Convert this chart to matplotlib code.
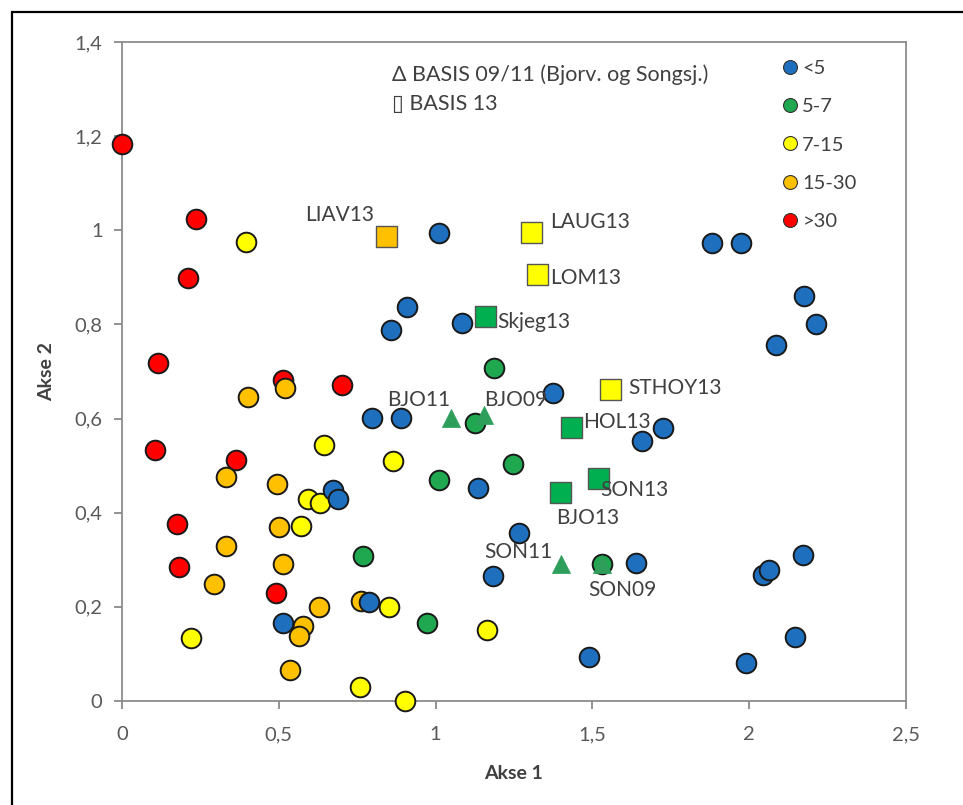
import matplotlib.pyplot as plt
from matplotlib.lines import Line2D
from matplotlib.patches import Rectangle

plt.rcParams['font.family'] = ['Lato', 'DejaVu Sans']

# circles per class (Akse 1, Akse 2)
lt5_x = [1.011, 0.91, 0.857, 1.085, 1.373, 0.798, 0.89, 0.674, 0.69, 1.134, 1.724, 1.657,
         2.084, 1.882, 1.973, 2.176, 2.212, 1.266, 1.184, 0.789, 0.514, 1.638, 2.045, 2.064,
         2.173, 2.146, 1.99, 1.49]
lt5_y = [0.994, 0.836, 0.788, 0.804, 0.655, 0.602, 0.602, 0.449, 0.43, 0.453, 0.58, 0.553,
         0.757, 0.973, 0.972, 0.86, 0.80, 0.357, 0.266, 0.21, 0.166, 0.294, 0.267, 0.278,
         0.31, 0.135, 0.08, 0.093]

g57_x = [1.187, 1.126, 1.248, 1.010, 0.767, 0.971, 1.532]
g57_y = [0.708, 0.591, 0.503, 0.469, 0.308, 0.166, 0.292]

g715_x = [0.394, 0.645, 0.865, 0.592, 0.631, 0.572, 0.851, 1.163, 0.22, 0.759, 0.902]
g715_y = [0.975, 0.543, 0.51, 0.429, 0.42, 0.372, 0.199, 0.151, 0.133, 0.03, 0.0]

g1530_x = [0.403, 0.52, 0.331, 0.495, 0.502, 0.332, 0.513, 0.293, 0.629, 0.761, 0.576,
           0.564, 0.537]
g1530_y = [0.646, 0.664, 0.475, 0.461, 0.37, 0.329, 0.292, 0.248, 0.199, 0.212, 0.16,
           0.139, 0.066]

gt30_x = [0.0, 0.236, 0.211, 0.116, 0.514, 0.70, 0.105, 0.362, 0.174, 0.181, 0.491]
gt30_y = [1.183, 1.023, 0.899, 0.718, 0.681, 0.672, 0.534, 0.513, 0.377, 0.285, 0.23]

# BASIS 13 (squares)
sq_names = ['LIAV13', 'LAUG13', 'LOM13', 'Skjeg13', 'STHOY13', 'HOL13', 'SON13', 'BJO13']
sq_x = [0.842, 1.307, 1.326, 1.16, 1.559, 1.434, 1.519, 1.397]
sq_y = [0.987, 0.996, 0.907, 0.817, 0.662, 0.582, 0.473, 0.442]
sq_col = ['#FFC000', '#FFFF00', '#FFFF00', '#00B050', '#FFFF00', '#00B050', '#00B050', '#00B050']

# BASIS 09/11 (triangles)
tri_names = ['BJO11', 'BJO09', 'SON11', 'SON09']
tri_x = [1.048, 1.154, 1.40, 1.532]
tri_y = [0.602, 0.607, 0.292, 0.292]

# label positions in data units
lab_x = [0.805, 1.365, 1.365, 1.196, 1.613, 1.47, 1.524, 1.384, 0.945, 1.255, 1.265, 1.487]
lab_y = [1.032, 1.017, 0.898, 0.805, 0.665, 0.592, 0.448, 0.389, 0.64, 0.64, 0.316, 0.236]
lab_ha = ['right', 'left', 'left', 'left', 'left', 'left', 'left', 'left',
          'center', 'center', 'center', 'left']

fig = plt.figure(figsize=(9.63, 8.05), dpi=100)
ax = fig.add_axes([0.1267, 0.1292, 0.8141, 0.8186])

S = 200
ec = '#1a1a1a'
ax.scatter(gt30_x, gt30_y, s=S, c='#FF0000', edgecolors=ec, linewidths=1.4, zorder=3, clip_on=False)
ax.scatter(g1530_x, g1530_y, s=S, c='#FFC000', edgecolors=ec, linewidths=1.4, zorder=3, clip_on=False)
ax.scatter(g715_x, g715_y, s=S, c='#FFFF00', edgecolors=ec, linewidths=1.4, zorder=3, clip_on=False)
ax.scatter(lt5_x, lt5_y, s=S, c='#1F6FBF', edgecolors=ec, linewidths=1.4, zorder=3, clip_on=False)
ax.scatter(g57_x, g57_y, s=S, c='#1FA84F', edgecolors=ec, linewidths=1.4, zorder=3, clip_on=False)
ax.scatter(sq_x, sq_y, s=230, c=sq_col, marker='s', edgecolors='#555555', linewidths=1.0, zorder=4)
ax.scatter(tri_x, tri_y, s=170, c='#2E9E5B', marker='^', edgecolors='#2E9E5B', linewidths=0.5, zorder=4)

names = sq_names + tri_names
for i, n in enumerate(names):
    ax.text(lab_x[i], lab_y[i], n, ha=lab_ha[i], va='center', fontsize=15, color='#404040', zorder=5)

ax.text(0.862, 1.33, '\u0394 BASIS 09/11 (Bjorv. og Songsj.)', fontsize=15.5, color='#404040', va='center')
ax.text(0.862, 1.268, '\u25af BASIS 13', fontsize=15.5, color='#404040', va='center')

ax.set_xlim(0, 2.5)
ax.set_ylim(0, 1.4)
ax.set_xticks([0, 0.5, 1, 1.5, 2, 2.5])
ax.set_xticklabels(['0', '0,5', '1', '1,5', '2', '2,5'])
ax.set_yticks([0, 0.2, 0.4, 0.6, 0.8, 1.0, 1.2, 1.4])
ax.set_yticklabels(['0', '0,2', '0,4', '0,6', '0,8', '1', '1,2', '1,4'])
ax.tick_params(labelsize=14.5, colors='#808080', labelcolor='#595959', length=6, width=1.2)
ax.tick_params(axis='x', pad=12)
ax.tick_params(axis='y', pad=8)
for sp in ax.spines.values():
    sp.set_color('#8c8c8c')
    sp.set_linewidth(1.3)
ax.set_xlabel('Akse 1', fontsize=14, fontweight='bold', color='#404040', labelpad=16)
ax.set_ylabel('Akse 2', fontsize=14, fontweight='bold', color='#404040', labelpad=14)

handles = [Line2D([], [], marker='o', ls='', ms=10, mfc=c, mec='#333333', mew=0.8)
           for c in ['#1F6FBF', '#1FA84F', '#FFFF00', '#FFC000', '#FF0000']]
ax.legend(handles, ['<5', '5-7', '7-15', '15-30', '>30'], loc='upper left',
          bbox_to_anchor=(0.828, 0.985), frameon=False, fontsize=14.5, labelcolor='#404040',
          handletextpad=0.05, labelspacing=1.05, handlelength=1.1, borderaxespad=0)

fig.patches.append(Rectangle((12 / 963, -0.1), 1.2, 1.1 - 12 / 805, transform=fig.transFigure,
                             fill=False, ec='black', lw=1.6, zorder=0))

fig.savefig('out.png', dpi=100)
